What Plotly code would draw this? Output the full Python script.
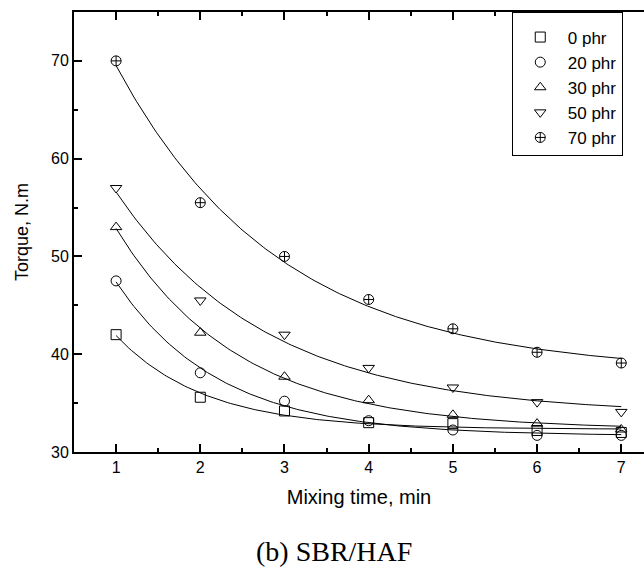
import numpy as np
import plotly.graph_objects as go

mixing_time = [1, 2, 3, 4, 5, 6, 7]
series_names = ["0 phr", "20 phr", "30 phr", "50 phr", "70 phr"]
torque_0 = [42.0, 35.6, 34.2, 33.0, 32.9, 32.2, 32.0]
torque_20 = [47.5, 38.1, 35.2, 33.2, 32.25, 31.7, 31.7]
torque_30 = [53.0, 42.2, 37.7, 35.3, 33.8, 32.9, 32.3]
torque_50 = [57.0, 45.5, 42.0, 38.6, 36.6, 35.1, 34.1]
torque_70 = [70.0, 55.5, 50.0, 45.6, 42.6, 40.2, 39.1]
series_values = [torque_0, torque_20, torque_30, torque_50, torque_70]
symbols = ["square-open", "circle-open", "triangle-up-open", "triangle-down-open", "circle-cross-open"]
x_ticks = [1, 2, 3, 4, 5, 6, 7]
y_ticks = [30, 40, 50, 60, 70]


def expdec_fit(x, y):
    """Least-squares fit of y = y0 + A*exp(-x/t) (first-order exponential decay)."""
    x = np.asarray(x, float)
    y = np.asarray(y, float)
    best = None
    for t in np.linspace(0.2, 10, 2000):
        M = np.column_stack([np.ones_like(x), np.exp(-x / t)])
        coef, *_ = np.linalg.lstsq(M, y, rcond=None)
        err = np.sum((M @ coef - y) ** 2)
        if best is None or err < best[0]:
            best = (err, coef, t)
    _, (y0, A), t = best
    return lambda xx: y0 + A * np.exp(-np.asarray(xx) / t)


fig = go.Figure()
xs = np.linspace(min(mixing_time), max(mixing_time), 200)
for name, vals in zip(series_names, series_values):
    f = expdec_fit(mixing_time, vals)
    fig.add_trace(go.Scatter(x=xs, y=f(xs), mode="lines",
                             line=dict(color="black", width=1),
                             showlegend=False, hoverinfo="skip"))
for name, vals, sym in zip(series_names, series_values, symbols):
    fig.add_trace(go.Scatter(x=mixing_time, y=vals, mode="markers", name=name,
                             marker=dict(symbol=sym, size=10, color="black",
                                         line=dict(color="black", width=1))))

sans = "Liberation Sans, Arial"
tick_font = dict(family=sans, size=16, color="black")
fig.update_layout(
    width=644, height=569,
    margin=dict(l=74, r=0, t=12, b=117),
    paper_bgcolor="white", plot_bgcolor="white",
    showlegend=True,
    legend=dict(x=0.768, y=1, xanchor="left", yanchor="top",
                bgcolor="white", bordercolor="black", borderwidth=1,
                font=dict(family=sans, size=17, color="black"),
                title=dict(text=" ", font=dict(size=5)),
                tracegroupgap=0, itemwidth=45),
    xaxis=dict(range=[0.5, 7.27], tickvals=x_ticks, ticks="inside", ticklen=8,
               tickwidth=1.5, tickcolor="black",
               minor=dict(dtick=0.5, ticks="inside", ticklen=4, tickcolor="black", tickwidth=1.5),
               showline=True, linecolor="black", linewidth=2, mirror="ticks",
               showgrid=False, zeroline=False, tickfont=tick_font,
               title=dict(text="Mixing time, min", font=dict(family=sans, size=20, color="black"),
                          standoff=15)),
    yaxis=dict(range=[30, 75], tickvals=y_ticks, ticks="inside", ticklen=8,
               tickwidth=1.5, tickcolor="black",
               minor=dict(dtick=5, ticks="inside", ticklen=4, tickcolor="black", tickwidth=1.5),
               showline=True, linecolor="black", linewidth=2, mirror=False,
               showgrid=False, zeroline=False, tickfont=tick_font,
               title=dict(text="Torque, N.m", font=dict(family=sans, size=18, color="black"),
                          standoff=18)),
    annotations=[dict(text="(b) SBR/HAF", xref="paper", yref="paper",
                      x=(334 - 74) / 570, y=(452 - 551) / 440, xanchor="center", yanchor="middle",
                      showarrow=False,
                      font=dict(family="Liberation Serif, Times New Roman", size=28, color="black"))],
)

fig.write_html("out.html")
